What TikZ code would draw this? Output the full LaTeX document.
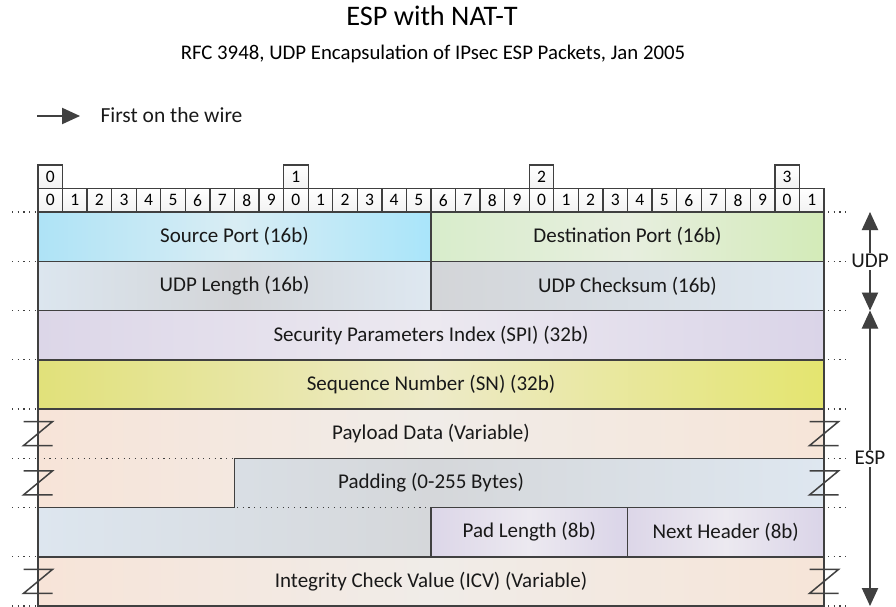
\documentclass[tikz,border=0pt]{standalone}
\usepackage{fontspec}
\setmainfont{Carlito}
\usetikzlibrary{arrows.meta,calc,positioning}

\definecolor{edge}{HTML}{404040}
\definecolor{srcL}{HTML}{AEE3F6}\definecolor{srcM}{HTML}{D9EDF4}\definecolor{srcR}{HTML}{A9E5FA}
\definecolor{dstL}{HTML}{D8EDCB}\definecolor{dstM}{HTML}{E7EEDF}\definecolor{dstR}{HTML}{D3EBB8}
\definecolor{udpL}{HTML}{DCE6EF}\definecolor{udpM}{HTML}{D3D5D8}\definecolor{udpR}{HTML}{DEE8F1}
\definecolor{spiL}{HTML}{DCD6E8}\definecolor{spiM}{HTML}{ECE9F0}\definecolor{spiR}{HTML}{DAD4E8}
\definecolor{seqL}{HTML}{E1E17A}\definecolor{seqM}{HTML}{EDEAC8}\definecolor{seqR}{HTML}{E4E56F}
\definecolor{payL}{HTML}{F7E4D8}\definecolor{payM}{HTML}{F0ECE8}\definecolor{payR}{HTML}{F6E5D8}
\definecolor{padL}{HTML}{DDE6EF}\definecolor{padM}{HTML}{D5D7DA}\definecolor{padR}{HTML}{DEE7F0}

\tikzset{zbreak/.pic={\draw[brk] (-14.5,-12)--(14.5,-12)--(-14.5,12)--(14.5,12);}}

\begin{document}
\begin{tikzpicture}[
  x=1pt,y=-1pt,
  field/.style={draw=edge,line width=1.5pt},
  bitbox/.style={draw=edge,line width=1.3pt,minimum width=24.56pt,
                 minimum height=23.5pt,inner sep=0pt,top color=white,
                 bottom color=gray!10,font=\fontsize{17.5}{17.5}\selectfont},
  fieldtext/.style={font=\fontsize{21}{24}\selectfont,text=black!90},
  guide/.style={draw=edge,line width=1.1pt,dash pattern=on 1.1pt off 4.6pt},
  brk/.style={draw=edge,line width=1.5pt},
  wirearrow/.style={draw=edge,line width=2pt,-{Triangle[length=18pt,width=16pt]}},
  spanarrow/.style={draw=edge,line width=2pt,
                    {Triangle[length=18pt,width=16pt]}-{Triangle[length=18pt,width=16pt]}},
  shadowed/.style={draw=black!12,shift={(2,3)}},
  tag/.style={fieldtext,fill=white,inner sep=1.5pt}
]
\useasboundingbox (0,0) rectangle (896,607);

% titles
\node[font=\fontsize{28.3}{32}\selectfont,anchor=base] (title) at (432,26) {ESP with NAT-T};
\node[font=\fontsize{20.8}{24}\selectfont,anchor=base] (subtitle) at (433,60)
  {RFC 3948, UDP Encapsulation of IPsec ESP Packets, Jan 2005};

% legend
\coordinate (wirestart) at (37,116);
\coordinate (wireend) at (80,116);
\draw[wirearrow,shadowed] (wirestart) -- (wireend);
\draw[wirearrow] (wirestart) -- (wireend);
\node[fieldtext,font=\fontsize{21.5}{24}\selectfont,anchor=base west] (wire) at (97,122) {First on the wire};

% bit numbers
\foreach \b in {0,...,31}{
  \pgfmathtruncatemacro{\d}{mod(\b,10)}
  \node[bitbox] (bit\b) at ({50.28+24.5625*\b},200.25) {\d};
}
\foreach \t in {0,...,3}
  \node[bitbox] (dec\t) at ({50.28+245.625*\t},176.75) {\t};

% fields
\draw[field,left color=payL,right color=payR,middle color=payM]
  (38,409)--(824,409)--(824,458.25)--(234.5,458.25)--(234.5,507.5)--(38,507.5)--cycle;
\draw[field,left color=padL,right color=padR,middle color=padM]
  (234.5,458.25)--(824,458.25)--(824,507.5)--(431,507.5)--(431,556.75)
  --(38,556.75)--(38,507.5)--(234.5,507.5)--cycle;
\draw[field,left color=srcL,right color=srcR,middle color=srcM] (38,212) rectangle (431,261.25);
\draw[field,left color=dstL,right color=dstR,middle color=dstM] (431,212) rectangle (824,261.25);
\draw[field,left color=udpL,right color=udpR,middle color=udpM] (38,261.25) rectangle (431,310.5);
\draw[field,left color=udpM,right color=udpR,middle color=udpM!50!udpR] (431,261.25) rectangle (824,310.5);
\draw[field,left color=spiL,right color=spiR,middle color=spiM] (38,310.5) rectangle (824,359.75);
\draw[field,left color=seqL,right color=seqR,middle color=seqM] (38,359.75) rectangle (824,409);
\draw[field,left color=spiL,right color=spiR,middle color=spiM] (431,507.5) rectangle (627.5,556.75);
\draw[field,left color=spiL,right color=spiR,middle color=spiM] (627.5,507.5) rectangle (824,556.75);
\draw[field,left color=payL,right color=payR,middle color=payM] (38,556.75) rectangle (824,606);

\node[fieldtext] (srcport) at (234.5,236.6) {Source Port (16b)};
\node[fieldtext] (dstport) at (627.5,236.6) {Destination Port (16b)};
\node[fieldtext] (udplen) at (234.5,285.9) {UDP Length (16b)};
\node[fieldtext] (udpsum) at (627.5,285.9) {UDP Checksum (16b)};
\node[fieldtext] (spi) at (431,335.1) {Security Parameters Index (SPI) (32b)};
\node[fieldtext] (seqnum) at (431,384.4) {Sequence Number (SN) (32b)};
\node[fieldtext] (payload) at (431,433.6) {Payload Data (Variable)};
\node[fieldtext] (padding) at (431,482.9) {Padding (0-255 Bytes)};
\node[fieldtext] (padlen) at (529.25,532.1) {Pad Length (8b)};
\node[fieldtext] (nexthdr) at (725.75,532.1) {Next Header (8b)};
\node[fieldtext] (icv) at (431,581.4) {Integrity Check Value (ICV) (Variable)};

% break marks
\foreach \y in {433.6,482.9,581.4}{
  \pic at (38,\y) {zbreak};
  \pic at (824,\y) {zbreak};
}

% row guides
\foreach \y in {212,261.25,310.5,359.75,409,458.25,507.5,556.75,606}{
  \draw[guide] (12,\y) -- (36,\y);
  \draw[guide] (828,\y) -- (850,\y);
}
\draw[guide] (38,458.25) -- (232,458.25);
\draw[guide] (237,507.5) -- (429,507.5);

% header spans
\coordinate (udptop) at (870,212);
\coordinate (udpbot) at (870,310.5);
\coordinate (espbot) at (870,606);
\draw[spanarrow,shadowed] (udptop) -- (udpbot);
\draw[spanarrow,shadowed] (udpbot) -- (espbot);
\draw[spanarrow] (udptop) -- node[tag] (udp) {UDP} (udpbot);
\draw[spanarrow] (udpbot) -- node[tag] (esp) {ESP} (espbot);
\end{tikzpicture}
\end{document}
